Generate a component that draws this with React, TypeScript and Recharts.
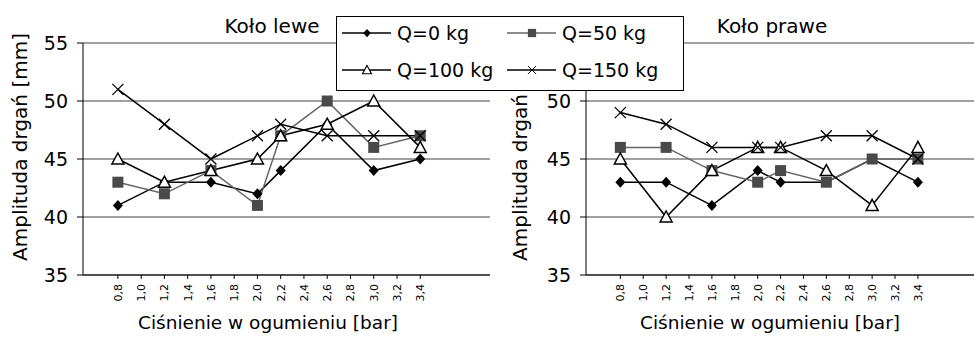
import { CartesianGrid, Line, LineChart, XAxis, YAxis } from 'recharts';

// ciśnienie w ogumieniu [bar]
const pressure = [0.8, 1.2, 1.6, 2.0, 2.2, 2.6, 3.0, 3.4];
const xTicks = [0.8, 1.0, 1.2, 1.4, 1.6, 1.8, 2.0, 2.2, 2.4, 2.6, 2.8, 3.0, 3.2, 3.4];
const yTicks = [35, 40, 45, 50, 55];

// Koło lewe
const left_q0 = [41, 43, 43, 42, 44, 48, 44, 45];
const left_q50 = [43, 42, 44, 41, 47, 50, 46, 47];
const left_q100 = [45, 43, 44, 45, 47, 48, 50, 46];
const left_q150 = [51, 48, 45, 47, 48, 47, 47, 47];

// Koło prawe
const right_q0 = [43, 43, 41, 44, 43, 43, 45, 43];
const right_q50 = [46, 46, 44, 43, 44, 43, 45, 45];
const right_q100 = [45, 40, 44, 46, 46, 44, 41, 46];
const right_q150 = [49, 48, 46, 46, 46, 47, 47, 45];

const seriesNames = ['Q=0 kg', 'Q=50 kg', 'Q=100 kg', 'Q=150 kg'];

const buildRows = (a: number[], b: number[], c: number[], d: number[]) =>
  pressure.map((p, i) => ({ p, q0: a[i], q50: b[i], q100: c[i], q150: d[i] }));

const leftData = buildRows(left_q0, left_q50, left_q100, left_q150);
const rightData = buildRows(right_q0, right_q50, right_q100, right_q150);

const FONT = '"DejaVu Sans", sans-serif';

const Diamond = ({ cx, cy }: any) => (
  <polygon points={`${cx},${cy - 5.5} ${cx + 5},${cy} ${cx},${cy + 5.5} ${cx - 5},${cy}`} fill="#000" />
);
const Square = ({ cx, cy }: any) => (
  <rect x={cx - 5.5} y={cy - 5.5} width={11} height={11} fill="#4a4a4a" />
);
const Triangle = ({ cx, cy }: any) => (
  <polygon
    points={`${cx},${cy - 6} ${cx + 6},${cy + 5} ${cx - 6},${cy + 5}`}
    fill="#fff"
    stroke="#000"
    strokeWidth={1.5}
  />
);
const Cross = ({ cx, cy }: any) => (
  <g stroke="#000" strokeWidth={1.3}>
    <line x1={cx - 5.5} y1={cy - 5.5} x2={cx + 5.5} y2={cy + 5.5} />
    <line x1={cx - 5.5} y1={cy + 5.5} x2={cx + 5.5} y2={cy - 5.5} />
  </g>
);

const XTick = ({ x, y, payload }: any) => (
  <text
    x={x}
    y={y + 3}
    transform={`rotate(-90, ${x}, ${y + 3})`}
    textAnchor="end"
    dy="0.35em"
    fontSize={11}
    fontFamily={FONT}
    fill="#000"
  >
    {payload.value.toFixed(1).replace('.', ',')}
  </text>
);

const YTitle = ({ viewBox, cx }: any) => {
  const y = viewBox.y + viewBox.height / 2 - 12;
  return (
    <text
      x={cx}
      y={y}
      transform={`rotate(-90, ${cx}, ${y})`}
      textAnchor="middle"
      dy="0.35em"
      fontSize={20}
      fontFamily={FONT}
      fill="#000"
    >
      Amplituda drgań [mm]
    </text>
  );
};

const XTitle = ({ cx }: any) => (
  <text x={cx} y={329} textAnchor="middle" fontSize={18.5} fontFamily={FONT} fill="#000">
    Ciśnienie w ogumieniu [bar]
  </text>
);

const Panel = ({ data, width, yWidth, domain, xTitleX, hideTop }: any) => (
  <LineChart
    width={width}
    height={338}
    data={data}
    margin={{ top: 43, right: 0, bottom: 13, left: 0 }}
  >
    <CartesianGrid vertical={false} stroke="#808080" strokeWidth={1.3} />
    <XAxis
      dataKey="p"
      type="number"
      domain={domain}
      ticks={xTicks}
      interval={0}
      height={50}
      tick={<XTick />}
      tickSize={4}
      axisLine={{ stroke: '#000' }}
      tickLine={{ stroke: '#000' }}
      label={<XTitle cx={xTitleX} />}
    />
    <YAxis
      domain={[35, 55]}
      ticks={yTicks}
      width={yWidth}
      tickSize={6}
      tickMargin={9}
      tickFormatter={(v: number) => (hideTop && v === 55 ? '' : String(v))}
      tick={{ fontSize: 19, fill: '#000', fontFamily: FONT }}
      axisLine={{ stroke: '#000' }}
      tickLine={{ stroke: '#000' }}
      label={<YTitle cx={20} />}
    />
    <Line dataKey="q0" name={seriesNames[0]} stroke="#000" strokeWidth={1.5} dot={<Diamond />} isAnimationActive={false} />
    <Line dataKey="q50" name={seriesNames[1]} stroke="#666" strokeWidth={1.5} dot={<Square />} isAnimationActive={false} />
    <Line dataKey="q100" name={seriesNames[2]} stroke="#000" strokeWidth={1.5} dot={<Triangle />} isAnimationActive={false} />
    <Line dataKey="q150" name={seriesNames[3]} stroke="#000" strokeWidth={1.5} dot={<Cross />} isAnimationActive={false} />
  </LineChart>
);

const LegendBox = () => {
  const markers = [Diamond, Square, Triangle, Cross];
  const cols = [6, 171];
  const rows = [17, 54];
  return (
    <svg width={348} height={75} style={{ position: 'absolute', left: 336, top: 16 }}>
      <rect x={0.5} y={0.5} width={347} height={74} fill="#fff" stroke="#000" strokeWidth={1} />
      {seriesNames.map((name, i) => {
        const x = cols[i % 2];
        const y = rows[Math.floor(i / 2)];
        const M = markers[i];
        return (
          <g key={name}>
            <line x1={x} y1={y} x2={x + 49} y2={y} stroke={i === 1 ? '#666' : '#000'} strokeWidth={1.5} />
            <g transform={`translate(${x + 25}, ${y}) scale(0.75) translate(${-(x + 25)}, ${-y})`}>
              <M cx={x + 25} cy={y} />
            </g>
            <text x={x + 55} y={y} dy="0.35em" fontSize={19} fontFamily={FONT} fill="#000">
              {name}
            </text>
          </g>
        );
      })}
    </svg>
  );
};

const Title = ({ text, x }: { text: string; x: number }) => (
  <div
    style={{
      position: 'absolute',
      left: x - 100,
      width: 200,
      top: 14,
      textAlign: 'center',
      fontSize: 20,
      fontFamily: FONT,
      lineHeight: '24px',
    }}
  >
    {text}
  </div>
);

export default function App() {
  return (
    <div
      style={{
        position: 'absolute',
        left: 0,
        top: 0,
        width: 974,
        height: 338,
        overflow: 'hidden',
        background: '#fff',
      }}
    >
      <div style={{ position: 'absolute', left: 0, top: 0 }}>
        <Panel data={leftData} width={490} yWidth={83} domain={[0.5, 4.0]} xTitleX={268} />
      </div>
      <div style={{ position: 'absolute', left: 500, top: 0 }}>
        <Panel data={rightData} width={474} yWidth={86} domain={[0.5, 3.89]} xTitleX={270} hideTop />
      </div>
      <Title text="Koło lewe" x={272} />
      <Title text="Koło prawe" x={772} />
      <LegendBox />
    </div>
  );
}
